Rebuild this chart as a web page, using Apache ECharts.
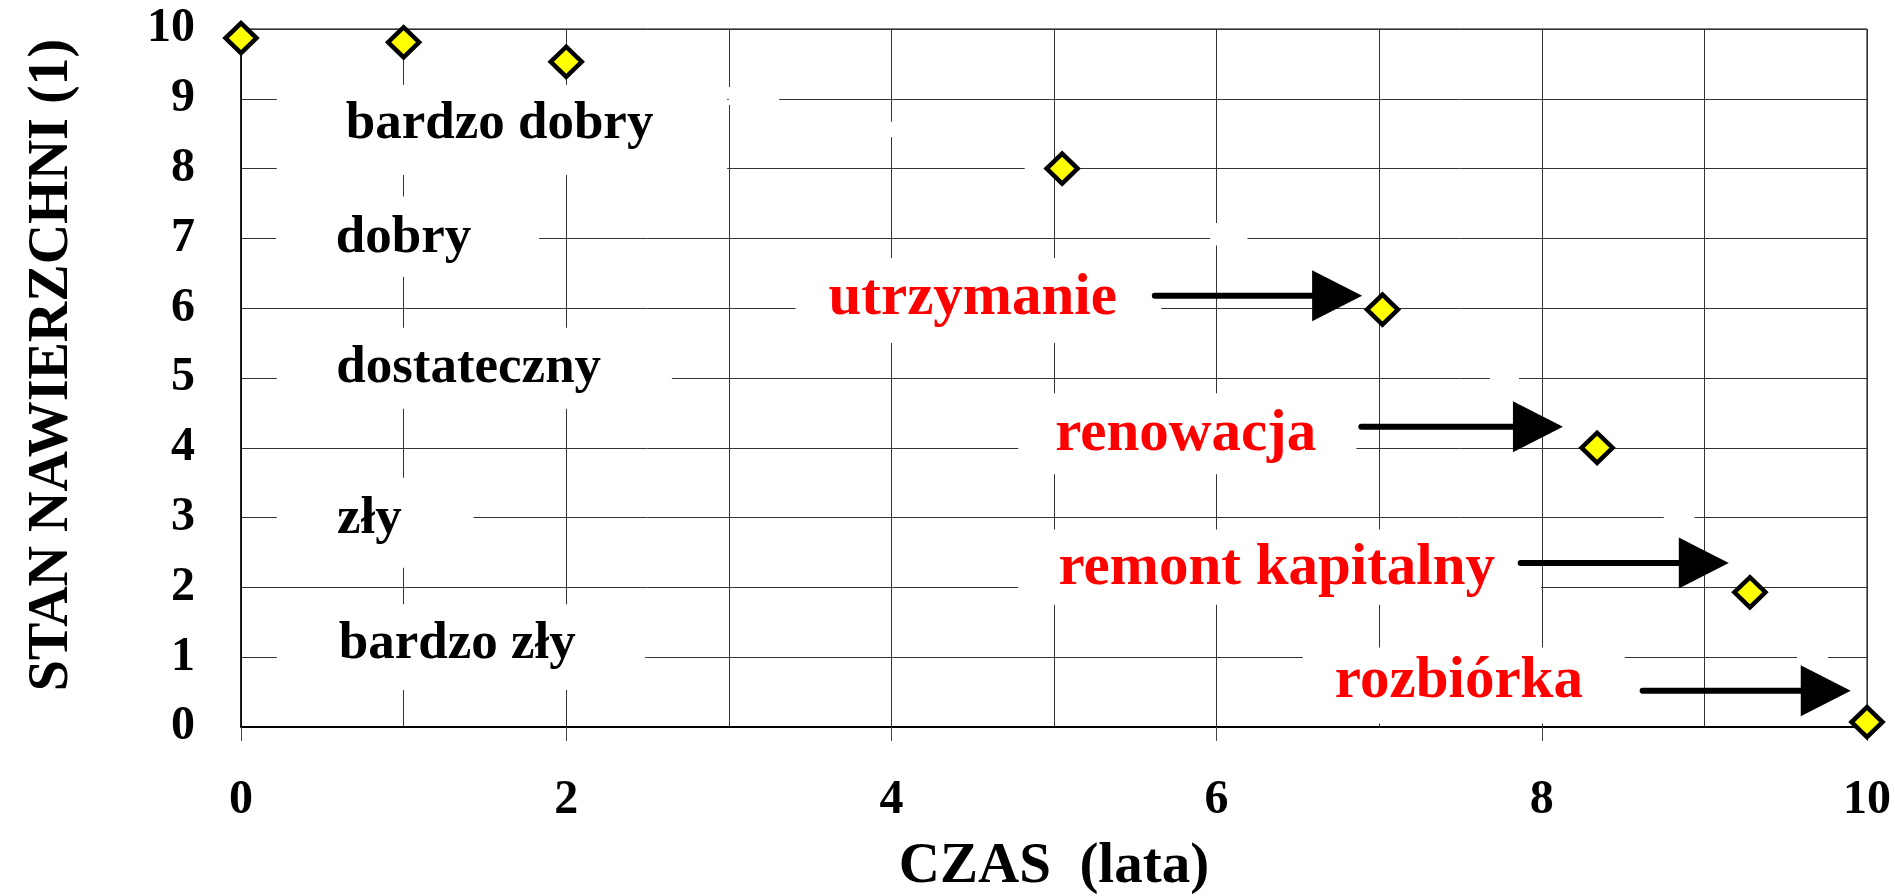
<!DOCTYPE html>
<html>
<head>
<meta charset="utf-8">
<title>Stan nawierzchni w czasie</title>
<script src="https://cdn.jsdelivr.net/npm/echarts@6/dist/echarts.min.js"></script>
<style>
  html, body { margin: 0; padding: 0; background: #fff; }
  #chart { width: 1895px; height: 896px; }
</style>
</head>
<body>
<div id="chart"></div>
<script>
const timeYears = [0, 1, 2, 5.05, 7.02, 8.34, 9.28, 10];
const surfaceState = [9.87, 9.81, 9.53, 8.0, 5.98, 4.0, 1.93, 0.07];

const xTicks = [0, 2, 4, 6, 8, 10];
const yTicks = [0, 1, 2, 3, 4, 5, 6, 7, 8, 9, 10];

// opisy stanu (czarne) i ich miejsce w jednostkach osi
const stateLabels = ['bardzo dobry', 'dobry', 'dostateczny', 'zły', 'bardzo zły'];
const stateLabelX = [1.59, 1.0, 1.40, 0.79, 1.33];
const stateLabelY = [8.64, 7.0, 5.14, 2.98, 1.18];

// zabiegi (czerwone) ze strzałkami
const actionLabels = ['utrzymanie', 'renowacja', 'remont kapitalny', 'rozbiórka'];
const actionLabelX = [4.50, 5.81, 6.37, 7.49];
const actionLabelY = [6.13, 4.19, 2.26, 0.65];
const arrowFromX = [5.62, 6.89, 7.87, 8.62];
const arrowToX = [6.895, 8.13, 9.15, 9.90];
const arrowY = [6.18, 4.30, 2.35, 0.52];

// białe pola pod napisami (zakrywają siatkę)
const boxX0 = [0.22, 3.0, 0.215, 0.22, 0.22, 0.22, 3.41, 4.78, 4.78, 6.53, 5.96, 7.68, 8.75, 9.57, 4.82, 3.93];
const boxX1 = [2.99, 3.31, 1.833, 2.65, 1.43, 2.485, 5.66, 6.86, 7.995, 8.51, 6.19, 7.86, 8.94, 9.76, 4.96, 4.07];
const boxY0 = [7.91, 8.91, 6.45, 4.56, 2.28, 0.53, 5.50, 3.62, 1.75, 0.05, 6.90, 4.93, 2.93, 0.93, 7.93, 8.45];
const boxY1 = [9.20, 9.17, 7.60, 5.72, 3.57, 1.76, 6.72, 4.78, 2.83, 1.14, 7.22, 5.07, 3.07, 1.07, 8.07, 8.67];

const serif = "'Liberation Serif', 'Times New Roman', serif";

const chart = echarts.init(document.getElementById('chart'));

const gridLine = { color: '#333', width: 1 };

const option = {
  backgroundColor: '#fff',
  animation: false,
  grid: {
    left: 241,
    right: 28,
    top: 29,
    bottom: 169,
    outerBoundsMode: 'none',
    show: true,
    borderColor: '#000',
    borderWidth: 1,
  },
  xAxis: {
    type: 'value',
    min: xTicks[0],
    max: xTicks[xTicks.length - 1],
    interval: xTicks[1] - xTicks[0],
    name: 'CZAS  (lata)',
    nameLocation: 'middle',
    nameGap: 112,
    nameTextStyle: {
      color: '#000',
      fontFamily: serif,
      fontWeight: 'bold',
      fontSize: 57,
    },
    axisLine: { lineStyle: { color: '#000', width: 2 } },
    axisTick: { show: true, length: 14, lineStyle: { color: '#444', width: 1 } },
    minorTick: { show: false, splitNumber: 2 },
    minorSplitLine: { show: true, lineStyle: gridLine },
    splitLine: { show: true, lineStyle: gridLine },
    axisLabel: {
      color: '#000',
      fontFamily: serif,
      fontWeight: 'bold',
      fontSize: 48,
      margin: 50,
    },
  },
  yAxis: {
    type: 'value',
    min: yTicks[0],
    max: yTicks[yTicks.length - 1],
    interval: yTicks[1] - yTicks[0],
    name: 'STAN NAWIERZCHNI (1)',
    nameLocation: 'middle',
    nameGap: 160,
    nameTextStyle: {
      color: '#000',
      fontFamily: serif,
      fontWeight: 'bold',
      fontSize: 56,
      padding: [0, 0, 0, 26],
    },
    axisLine: { show: true, lineStyle: { color: '#000', width: 1.5 } },
    axisTick: { show: false },
    splitLine: { show: true, lineStyle: gridLine },
    axisLabel: {
      color: '#000',
      fontFamily: serif,
      fontWeight: 'bold',
      fontSize: 48,
      margin: 46,
    },
  },
  series: [
    {
      // białe pola
      type: 'custom',
      z: 2,
      silent: true,
      data: boxX0.map((x0, i) => [x0, boxY0[i], boxX1[i], boxY1[i]]),
      renderItem: (params, api) => {
        const p0 = api.coord([api.value(0), api.value(3)]);
        const p1 = api.coord([api.value(2), api.value(1)]);
        return {
          type: 'rect',
          shape: { x: p0[0], y: p0[1], width: p1[0] - p0[0], height: p1[1] - p0[1] },
          style: { fill: '#fff' },
        };
      },
    },
    {
      // opisy stanu
      type: 'custom',
      z: 3,
      silent: true,
      data: stateLabels.map((t, i) => [stateLabelX[i], stateLabelY[i]]),
      renderItem: (params, api) => {
        const p = api.coord([api.value(0), api.value(1)]);
        return {
          type: 'text',
          x: p[0],
          y: p[1],
          style: {
            text: stateLabels[params.dataIndex],
            fill: '#000',
            fontFamily: serif,
            fontWeight: 'bold',
            fontSize: 53,
            align: 'center',
            verticalAlign: 'middle',
          },
        };
      },
    },
    {
      // zabiegi
      type: 'custom',
      z: 3,
      silent: true,
      data: actionLabels.map((t, i) => [actionLabelX[i], actionLabelY[i]]),
      renderItem: (params, api) => {
        const p = api.coord([api.value(0), api.value(1)]);
        return {
          type: 'text',
          x: p[0],
          y: p[1],
          style: {
            text: actionLabels[params.dataIndex],
            fill: '#ff0000',
            fontFamily: serif,
            fontWeight: 'bold',
            fontSize: 59,
            align: 'center',
            verticalAlign: 'middle',
          },
        };
      },
    },
    {
      // strzałki
      type: 'custom',
      z: 4,
      silent: true,
      data: arrowFromX.map((x0, i) => [x0, arrowToX[i], arrowY[i]]),
      renderItem: (params, api) => {
        const a = api.coord([api.value(0), api.value(2)]);
        const b = api.coord([api.value(1), api.value(2)]);
        const headLen = 50;
        const headHalf = 25.5;
        return {
          type: 'group',
          children: [
            {
              type: 'line',
              shape: { x1: a[0], y1: a[1], x2: b[0] - headLen + 2, y2: b[1] },
              style: { stroke: '#000', lineWidth: 6, lineCap: 'round' },
            },
            {
              type: 'polygon',
              shape: {
                points: [
                  [b[0], b[1]],
                  [b[0] - headLen, b[1] - headHalf],
                  [b[0] - headLen, b[1] + headHalf],
                ],
              },
              style: { fill: '#000' },
            },
          ],
        };
      },
    },
    {
      name: 'Stan nawierzchni',
      type: 'scatter',
      z: 5,
      data: timeYears.map((t, i) => [t, surfaceState[i]]),
      symbol: 'diamond',
      symbolSize: [31, 30],
      itemStyle: {
        color: '#ffff00',
        borderColor: '#000',
        borderWidth: 4.5,
        opacity: 1,
      },
      clip: false,
    },
  ],
};

chart.setOption(option);
</script>
</body>
</html>
